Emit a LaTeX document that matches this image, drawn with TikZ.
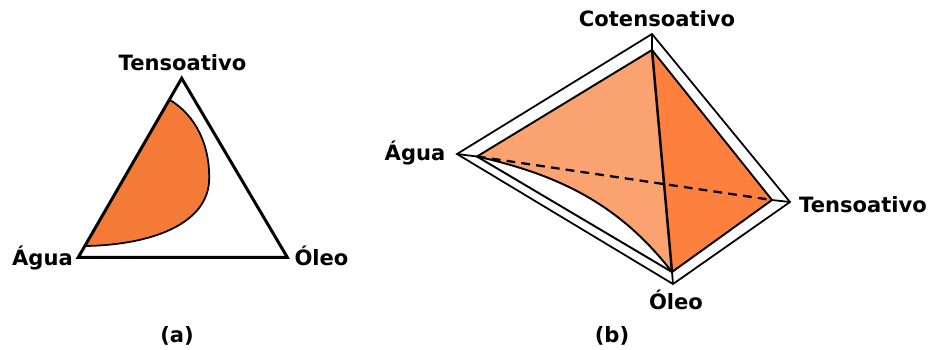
\documentclass[tikz,border=0pt]{standalone}
\usepackage{fontspec}
\setmainfont{DejaVu Sans}
\usepackage{tikz}
\usetikzlibrary{positioning}
\definecolor{Laranja}{RGB}{244, 122, 56}
\definecolor{LaranjaClaro}{RGB}{250, 163, 112}
\definecolor{LaranjaEscuro}{RGB}{253, 128, 62}

\begin{document}
\begin{tikzpicture}[x=0.02cm, y=-0.02cm,
        rotulo/.style={font=\bfseries\fontsize{12}{14}\selectfont, anchor=base, inner sep=0pt},
        lado/.style={line width=1.7pt, line join=miter, draw=black},
        borda/.style={line width=1.0pt, draw=black},
        aresta/.style={line width=1.1pt, draw=black},
        moldura/.style={line width=1.0pt, draw=black}
    ]
        \useasboundingbox (0,0) rectangle (932,349);

        % ================= (a): DIAGRAMA TERNARIO =================
        \coordinate (tA) at (181.7, 78.3);
        \coordinate (aA) at (78.3, 257.3);
        \coordinate (oA) at (287.3, 257.3);

        \fill[Laranja] (170,100) -- (85,246) .. controls (150,245) and (205,225) .. (209,183)
            .. controls (211,145) and (195,115) .. cycle;
        \draw[borda] (85,246) .. controls (150,245) and (205,225) .. (209,183)
            .. controls (211,145) and (195,115) .. (170,100);
        \draw[lado] (tA) -- (aA) -- (oA) -- cycle;

        \node[rotulo] (tensA) at (182.5, 70) {Tensoativo};
        \node[rotulo] (aguaA) at (42.5, 265) {Água};
        \node[rotulo] (oleoA) at (321.5, 265) {Óleo};
        \node[rotulo] (legA) at (177, 342) {(a)};

        % ================= (b): TETRAEDRO =================
        % moldura externa
        \coordinate (To) at (652, 34);
        \coordinate (Lo) at (457, 154);
        \coordinate (Ro) at (790, 202);
        \coordinate (Bo) at (673, 284);
        % moldura interna / vertices da regiao
        \coordinate (Ti) at (652, 50);
        \coordinate (Li) at (477, 156.5);
        \coordinate (Ri) at (772, 200);
        \coordinate (Bi) at (672, 272);

        \fill[LaranjaClaro] (Li) -- (Ti) -- (Bi) .. controls (620,205) and (560,175) .. (Li) -- cycle;
        \fill[LaranjaEscuro] (Ti) -- (Ri) -- (Bi) -- cycle;

        \draw[moldura] (To) -- (Ro) -- (Bo) -- (Lo) -- cycle;
        \draw[aresta] (Ti) -- (Ri) -- (Bi) -- (Li) -- cycle;
        \foreach \p in {T, L, R, B}
            \draw[moldura] (\p o) -- (\p i);

        \draw[aresta, line width=1.4pt] (Ti) -- (Bi);
        \draw[aresta, line width=1.3pt, dash pattern=on 5pt off 3.5pt] (Li) -- (Ri);
        \draw[aresta] (Li) .. controls (560,175) and (620,205) .. (Bi);

        \node[rotulo] (coten) at (657, 26) {Cotensoativo};
        \node[rotulo] (aguaB) at (415, 160) {Água};
        \node[rotulo] (tensB) at (863, 212) {Tensoativo};
        \node[rotulo] (oleoB) at (676, 309) {Óleo};
        \node[rotulo] (legB) at (612, 342) {(b)};
\end{tikzpicture}
\end{document}
